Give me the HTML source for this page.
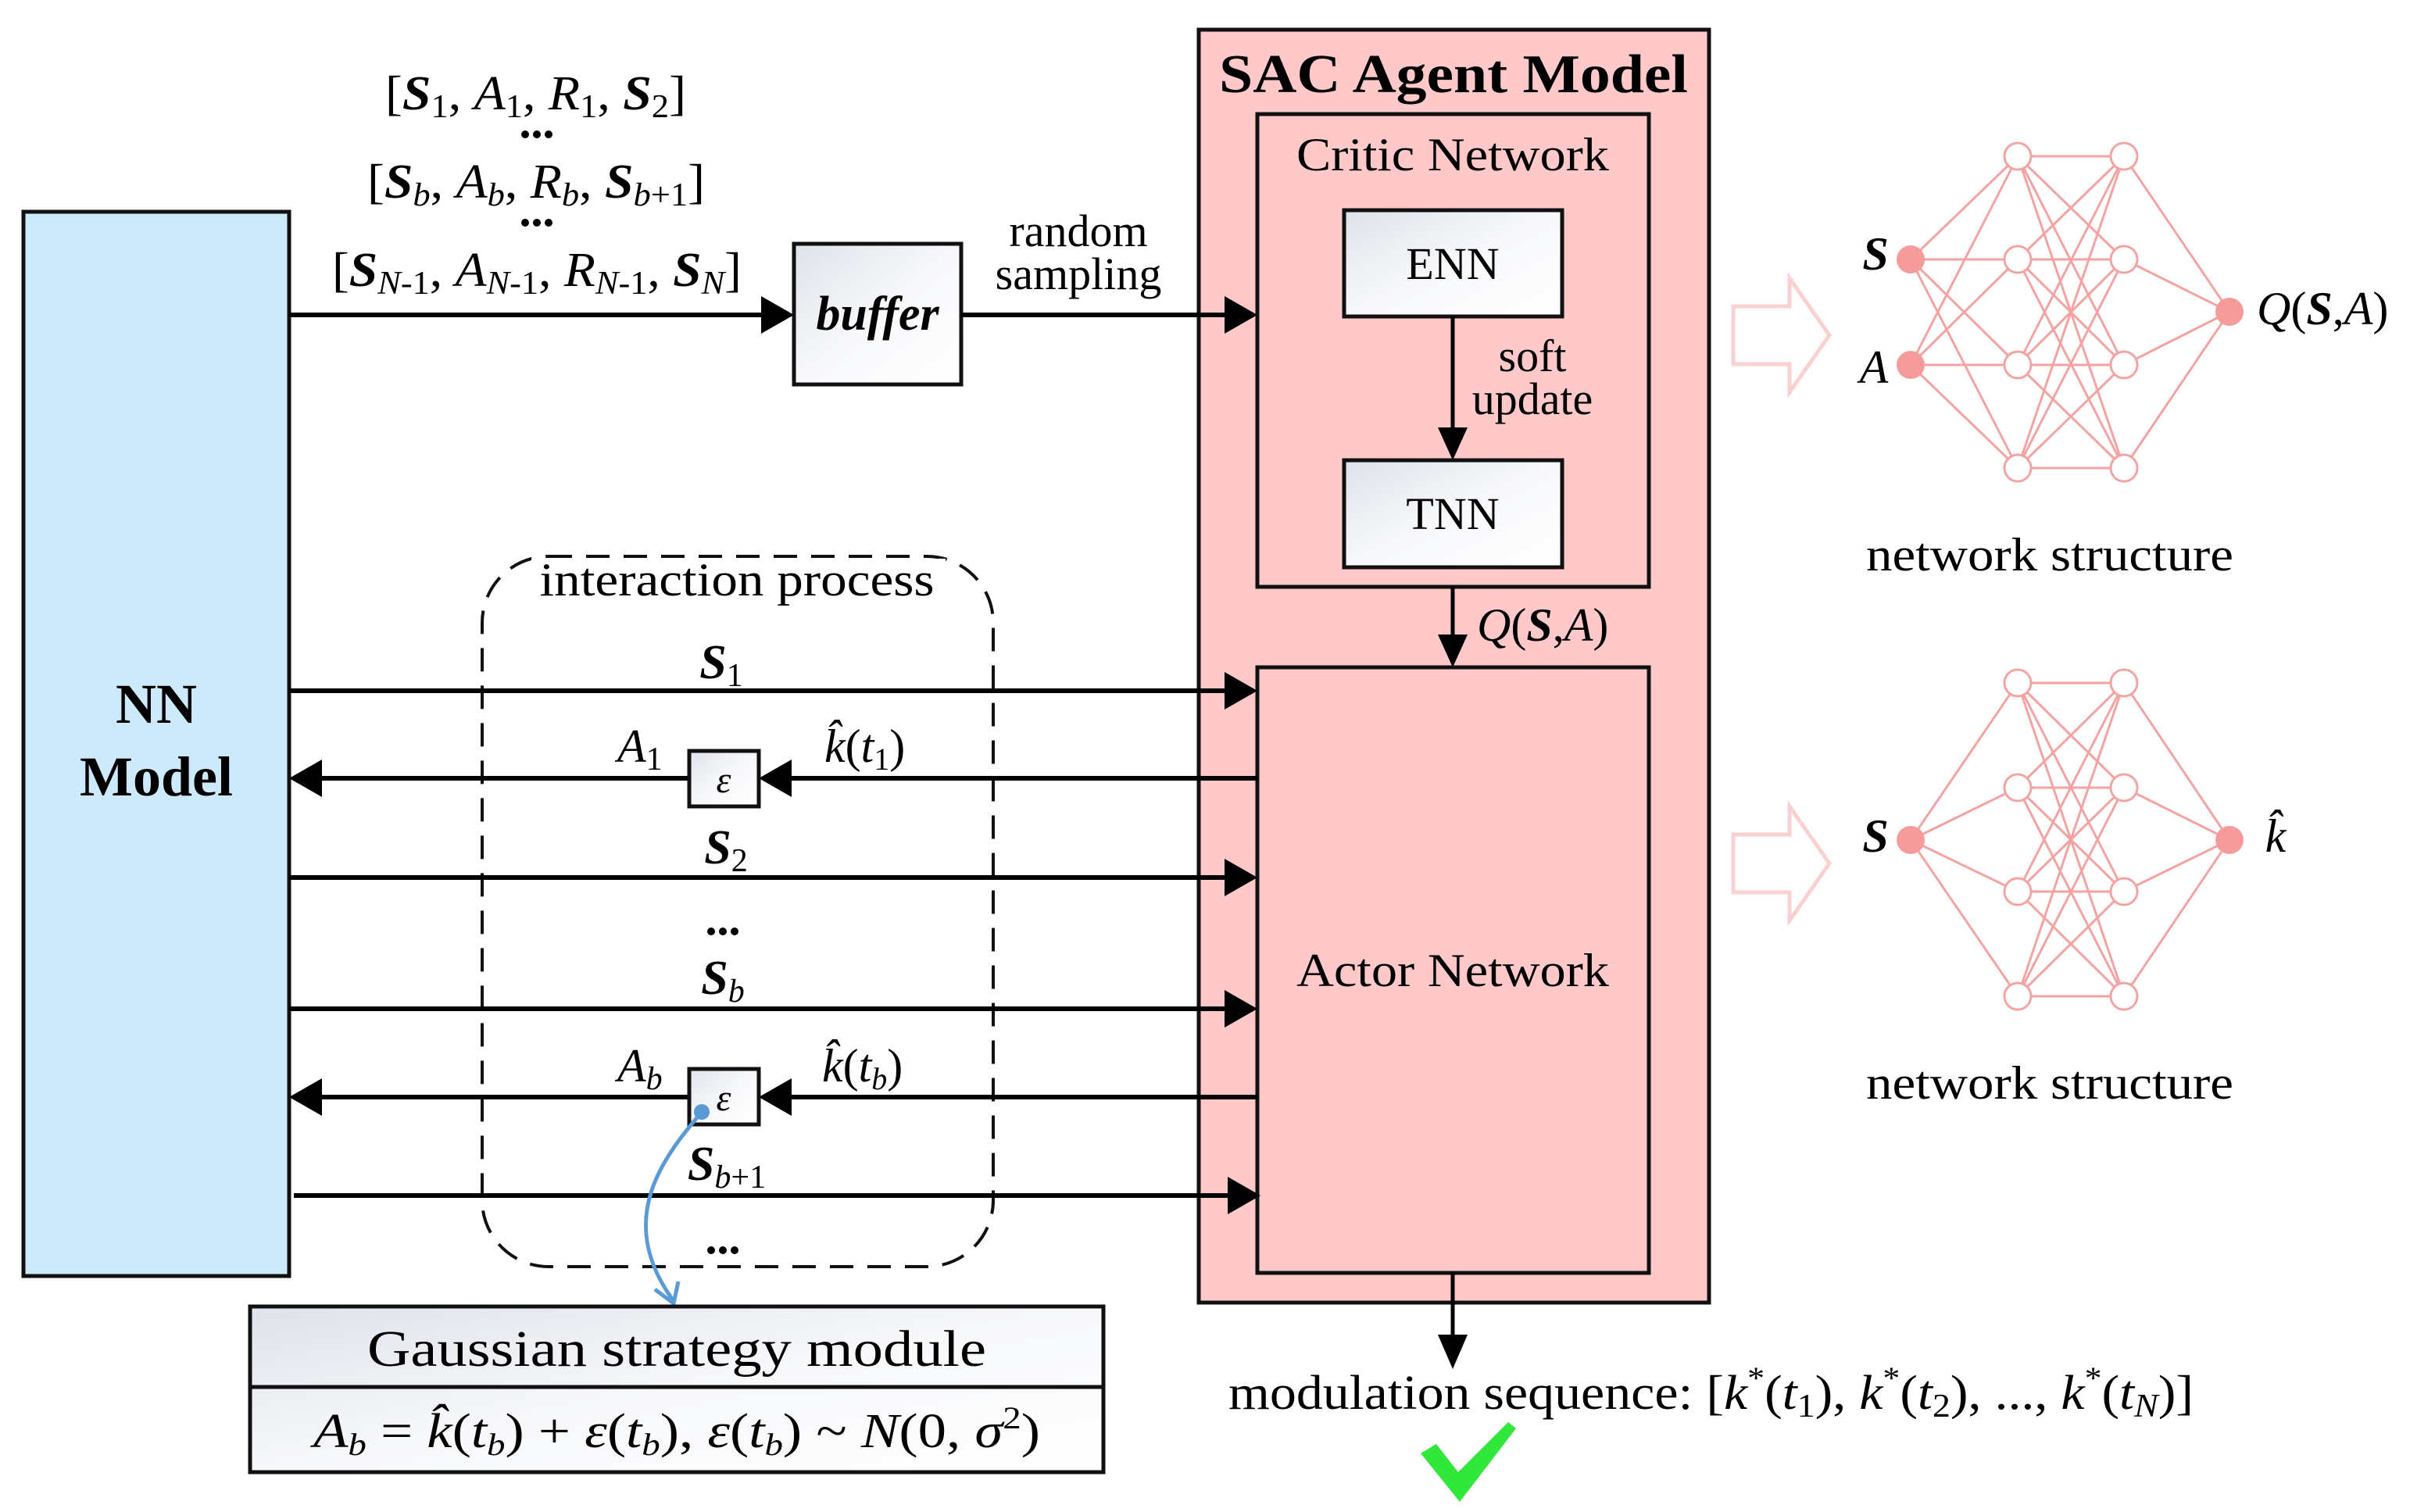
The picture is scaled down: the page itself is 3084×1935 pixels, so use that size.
<!DOCTYPE html>
<html><head><meta charset="utf-8"><style>
html,body{margin:0;padding:0;background:#fff;}
svg{display:block;}
text{font-family:"Liberation Serif",serif;fill:#000;}
</style></head><body>
<svg width="3084" height="1935" viewBox="0 0 3084 1935" xmlns="http://www.w3.org/2000/svg">
<defs>
<linearGradient id="g" x1="0" y1="0" x2="1" y2="1"><stop offset="0" stop-color="#dfe2ea"/><stop offset="0.5" stop-color="#f7f8fa"/><stop offset="1" stop-color="#ffffff"/></linearGradient>
</defs>

<!-- NN Model -->
<rect x="30" y="271" width="340" height="1362" fill="#cdeafc" stroke="#111" stroke-width="5"/>
<text x="200" y="925" font-size="72" font-weight="bold" text-anchor="middle">NN</text>
<text x="200" y="1018" font-size="72" font-weight="bold" text-anchor="middle">Model</text>

<!-- tuples -->
<text x="493" y="140" font-size="62" textLength="385" lengthAdjust="spacingAndGlyphs">[<tspan font-weight="bold" font-style="italic">S</tspan><tspan font-size="42" dy="10">1</tspan><tspan dy="-10">, </tspan><tspan font-style="italic">A</tspan><tspan font-size="42" dy="10">1</tspan><tspan dy="-10">, </tspan><tspan font-style="italic">R</tspan><tspan font-size="42" dy="10">1</tspan><tspan dy="-10">, </tspan><tspan font-weight="bold" font-style="italic">S</tspan><tspan font-size="42" dy="10">2</tspan><tspan dy="-10">]</tspan></text>
<circle cx="672" cy="172" r="5"/><circle cx="687" cy="172" r="5"/><circle cx="702" cy="172" r="5"/>
<text x="470" y="253" font-size="62" textLength="432" lengthAdjust="spacingAndGlyphs">[<tspan font-weight="bold" font-style="italic">S</tspan><tspan font-size="42" dy="10" font-style="italic">b</tspan><tspan dy="-10">, </tspan><tspan font-style="italic">A</tspan><tspan font-size="42" dy="10" font-style="italic">b</tspan><tspan dy="-10">, </tspan><tspan font-style="italic">R</tspan><tspan font-size="42" dy="10" font-style="italic">b</tspan><tspan dy="-10">, </tspan><tspan font-weight="bold" font-style="italic">S</tspan><tspan font-size="42" dy="10"><tspan font-style="italic">b</tspan>+1</tspan><tspan dy="-10">]</tspan></text>
<circle cx="672" cy="285" r="5"/><circle cx="687" cy="285" r="5"/><circle cx="702" cy="285" r="5"/>
<text x="425" y="366" font-size="62" textLength="524" lengthAdjust="spacingAndGlyphs">[<tspan font-weight="bold" font-style="italic">S</tspan><tspan font-size="42" dy="10"><tspan font-style="italic">N</tspan>-1</tspan><tspan dy="-10">, </tspan><tspan font-style="italic">A</tspan><tspan font-size="42" dy="10"><tspan font-style="italic">N</tspan>-1</tspan><tspan dy="-10">, </tspan><tspan font-style="italic">R</tspan><tspan font-size="42" dy="10"><tspan font-style="italic">N</tspan>-1</tspan><tspan dy="-10">, </tspan><tspan font-weight="bold" font-style="italic">S</tspan><tspan font-size="42" dy="10" font-style="italic">N</tspan><tspan dy="-10">]</tspan></text>

<!-- arrow to buffer -->
<line x1="370" y1="403" x2="980" y2="403" stroke="#000" stroke-width="6"/>
<polygon points="974,379 1016,403 974,427"/>
<rect x="1016" y="312" width="214" height="180" fill="url(#g)" stroke="#111" stroke-width="5"/>
<text x="1123" y="422" font-size="62" font-weight="bold" font-style="italic" text-anchor="middle">buffer</text>
<text x="1380" y="315" font-size="58" text-anchor="middle">random</text>
<text x="1380" y="370" font-size="58" text-anchor="middle">sampling</text>

<!-- SAC outer -->
<rect x="1534" y="38" width="653" height="1629" fill="#ffc9c9" stroke="#111" stroke-width="5"/>
<text x="1860" y="118" font-size="70" font-weight="bold" text-anchor="middle" textLength="600" lengthAdjust="spacingAndGlyphs">SAC Agent Model</text>
<line x1="1230" y1="403" x2="1575" y2="403" stroke="#000" stroke-width="6"/>
<polygon points="1567,379 1609,403 1567,427"/>

<!-- critic -->
<rect x="1609" y="146" width="501" height="605" fill="none" stroke="#111" stroke-width="5"/>
<text x="1859" y="218" font-size="60" text-anchor="middle" textLength="400" lengthAdjust="spacingAndGlyphs">Critic Network</text>
<rect x="1720" y="269" width="279" height="136" fill="url(#g)" stroke="#111" stroke-width="5"/>
<text x="1859" y="357" font-size="58" text-anchor="middle">ENN</text>
<rect x="1720" y="589" width="279" height="137" fill="url(#g)" stroke="#111" stroke-width="5"/>
<text x="1859" y="677" font-size="58" text-anchor="middle">TNN</text>
<line x1="1859" y1="405" x2="1859" y2="555" stroke="#000" stroke-width="5"/>
<polygon points="1840,547 1859,589 1878,547"/>
<text x="1961" y="475" font-size="58" text-anchor="middle">soft</text>
<text x="1961" y="530" font-size="58" text-anchor="middle">update</text>

<line x1="1859" y1="751" x2="1859" y2="820" stroke="#000" stroke-width="5"/>
<polygon points="1840,812 1859,854 1878,812"/>
<text x="1890" y="820" font-size="60"><tspan font-style="italic">Q</tspan>(<tspan font-weight="bold" font-style="italic">S</tspan>,<tspan font-style="italic">A</tspan>)</text>

<!-- actor -->
<rect x="1609" y="854" width="501" height="775" fill="none" stroke="#111" stroke-width="5"/>
<text x="1859" y="1262" font-size="60" text-anchor="middle" textLength="400" lengthAdjust="spacingAndGlyphs">Actor Network</text>
<line x1="1859" y1="1629" x2="1859" y2="1715" stroke="#000" stroke-width="5"/>
<polygon points="1840,1708 1859,1752 1878,1708"/>

<text x="1572" y="1803" font-size="62" textLength="1235" lengthAdjust="spacingAndGlyphs">modulation sequence: [<tspan font-style="italic">k</tspan><tspan font-size="40" dy="-26">*</tspan><tspan dy="26">(</tspan><tspan font-style="italic">t</tspan><tspan font-size="42" dy="10">1</tspan><tspan dy="-10">), </tspan><tspan font-style="italic">k</tspan><tspan font-size="40" dy="-26">*</tspan><tspan dy="26">(</tspan><tspan font-style="italic">t</tspan><tspan font-size="42" dy="10">2</tspan><tspan dy="-10">), ...,  </tspan><tspan font-style="italic">k</tspan><tspan font-size="40" dy="-26">*</tspan><tspan dy="26">(</tspan><tspan font-style="italic">t</tspan><tspan font-size="42" dy="10" font-style="italic">N</tspan><tspan dy="-10">)]</tspan></text>
<polygon points="1818,1860 1838,1848 1866,1884 1930,1820 1940,1828 1868,1922" fill="#2fe83a"/>

<!-- interaction dashed -->
<rect x="617" y="712" width="654" height="909" rx="85" ry="85" fill="none" stroke="#111" stroke-width="4" stroke-dasharray="30,18"/>
<rect x="680" y="715" width="530" height="60" fill="#fff"/>
<text x="943" y="762" font-size="60" text-anchor="middle" textLength="505" lengthAdjust="spacingAndGlyphs">interaction process</text>

<!-- arrows in interaction -->
<line x1="370" y1="884" x2="1575" y2="884" stroke="#000" stroke-width="6"/><polygon points="1567,860 1609,884 1567,908"/>
<text x="923" y="868" font-size="62" font-weight="bold" font-style="italic" text-anchor="middle">S<tspan font-size="42" font-weight="normal" font-style="normal" dy="10">1</tspan></text>

<line x1="405" y1="996" x2="882" y2="996" stroke="#000" stroke-width="6"/><polygon points="412,972 370,996 412,1020"/>
<line x1="1012" y1="996" x2="1609" y2="996" stroke="#000" stroke-width="6"/><polygon points="1013,972 971,996 1013,1020"/>
<rect x="882" y="961" width="89" height="71" fill="url(#g)" stroke="#111" stroke-width="5"/>
<text x="926" y="1014" font-size="48" font-style="italic" text-anchor="middle">ε</text>
<text x="790" y="975" font-size="60" font-style="italic">A<tspan font-size="42" font-style="normal" dy="10">1</tspan></text>
<text x="1055" y="975" font-size="60"><tspan font-style="italic">k̂</tspan>(<tspan font-style="italic">t</tspan><tspan font-size="40" dy="10">1</tspan><tspan dy="-10">)</tspan></text>

<line x1="370" y1="1123" x2="1575" y2="1123" stroke="#000" stroke-width="6"/><polygon points="1567,1099 1609,1123 1567,1147"/>
<text x="929" y="1105" font-size="62" font-weight="bold" font-style="italic" text-anchor="middle">S<tspan font-size="42" font-weight="normal" font-style="normal" dy="10">2</tspan></text>

<circle cx="910" cy="1192" r="5"/><circle cx="925" cy="1192" r="5"/><circle cx="940" cy="1192" r="5"/>

<line x1="370" y1="1291" x2="1575" y2="1291" stroke="#000" stroke-width="6"/><polygon points="1567,1267 1609,1291 1567,1315"/>
<text x="925" y="1272" font-size="62" font-weight="bold" font-style="italic" text-anchor="middle">S<tspan font-size="42" font-weight="normal" dy="10">b</tspan></text>

<line x1="405" y1="1404" x2="882" y2="1404" stroke="#000" stroke-width="6"/><polygon points="412,1380 370,1404 412,1428"/>
<line x1="1012" y1="1404" x2="1609" y2="1404" stroke="#000" stroke-width="6"/><polygon points="1013,1380 971,1404 1013,1428"/>
<rect x="882" y="1368" width="89" height="71" fill="url(#g)" stroke="#111" stroke-width="5"/>
<text x="926" y="1421" font-size="48" font-style="italic" text-anchor="middle">ε</text>
<text x="790" y="1384" font-size="60" font-style="italic">A<tspan font-size="42" dy="10">b</tspan></text>
<text x="1052" y="1384" font-size="60"><tspan font-style="italic">k̂</tspan>(<tspan font-style="italic">t</tspan><tspan font-size="40" font-style="italic" dy="10">b</tspan><tspan dy="-10">)</tspan></text>

<line x1="376" y1="1530" x2="1575" y2="1530" stroke="#000" stroke-width="6"/><polygon points="1571,1506 1613,1530 1571,1554"/>
<text x="930" y="1510" font-size="62" font-weight="bold" font-style="italic" text-anchor="middle">S<tspan font-size="42" font-weight="normal" dy="10"><tspan font-style="italic">b</tspan><tspan font-style="normal">+1</tspan></tspan></text>

<circle cx="910" cy="1600" r="5"/><circle cx="925" cy="1600" r="5"/><circle cx="940" cy="1600" r="5"/>

<!-- blue curve -->
<circle cx="898" cy="1423" r="10" fill="#5b9bd5"/>
<path d="M898,1423 C850,1480 785,1560 862,1665" fill="none" stroke="#5b9bd5" stroke-width="5"/>
<polyline points="838,1650 862,1668 868,1640" fill="none" stroke="#5b9bd5" stroke-width="5"/>

<!-- Gaussian -->
<rect x="320" y="1672" width="1092" height="212" fill="url(#g)" stroke="#111" stroke-width="5"/>
<line x1="320" y1="1775" x2="1412" y2="1775" stroke="#111" stroke-width="5"/>
<text x="866" y="1748" font-size="66" text-anchor="middle" textLength="792" lengthAdjust="spacingAndGlyphs">Gaussian strategy module</text>
<text x="866" y="1852" font-size="62" text-anchor="middle" textLength="930" lengthAdjust="spacingAndGlyphs"><tspan font-style="italic">A</tspan><tspan font-size="40" font-style="italic" dy="10">b</tspan><tspan dy="-10"> = </tspan><tspan font-style="italic">k̂</tspan>(<tspan font-style="italic">t</tspan><tspan font-size="40" font-style="italic" dy="10">b</tspan><tspan dy="-10">) + </tspan><tspan font-style="italic">ε</tspan>(<tspan font-style="italic">t</tspan><tspan font-size="40" font-style="italic" dy="10">b</tspan><tspan dy="-10">),  </tspan><tspan font-style="italic">ε</tspan>(<tspan font-style="italic">t</tspan><tspan font-size="40" font-style="italic" dy="10">b</tspan><tspan dy="-10">) ~ </tspan><tspan font-style="italic">N</tspan>(0, <tspan font-style="italic">σ</tspan><tspan font-size="40" dy="-24">2</tspan><tspan dy="24">)</tspan></text>

<!-- hollow arrows -->
<polygon points="2218,392 2290,392 2290,356 2341,429 2290,502 2290,466 2218,466" fill="none" stroke="#fbd0d0" stroke-width="5"/>
<polygon points="2218,1068 2290,1068 2290,1032 2341,1105 2290,1178 2290,1142 2218,1142" fill="none" stroke="#fbd0d0" stroke-width="5"/>

<!-- network 1 -->
<g stroke="#f4a3a3" stroke-width="3">
<line x1="2445" y1="332" x2="2582" y2="200"/><line x1="2445" y1="332" x2="2582" y2="332"/><line x1="2445" y1="332" x2="2582" y2="467"/><line x1="2445" y1="332" x2="2582" y2="599"/>
<line x1="2445" y1="467" x2="2582" y2="200"/><line x1="2445" y1="467" x2="2582" y2="332"/><line x1="2445" y1="467" x2="2582" y2="467"/><line x1="2445" y1="467" x2="2582" y2="599"/>
<line x1="2582" y1="200" x2="2718" y2="200"/><line x1="2582" y1="200" x2="2718" y2="332"/><line x1="2582" y1="200" x2="2718" y2="467"/><line x1="2582" y1="200" x2="2718" y2="599"/>
<line x1="2582" y1="332" x2="2718" y2="200"/><line x1="2582" y1="332" x2="2718" y2="332"/><line x1="2582" y1="332" x2="2718" y2="467"/><line x1="2582" y1="332" x2="2718" y2="599"/>
<line x1="2582" y1="467" x2="2718" y2="200"/><line x1="2582" y1="467" x2="2718" y2="332"/><line x1="2582" y1="467" x2="2718" y2="467"/><line x1="2582" y1="467" x2="2718" y2="599"/>
<line x1="2582" y1="599" x2="2718" y2="200"/><line x1="2582" y1="599" x2="2718" y2="332"/><line x1="2582" y1="599" x2="2718" y2="467"/><line x1="2582" y1="599" x2="2718" y2="599"/>
<line x1="2718" y1="200" x2="2853" y2="399"/><line x1="2718" y1="332" x2="2853" y2="399"/><line x1="2718" y1="467" x2="2853" y2="399"/><line x1="2718" y1="599" x2="2853" y2="399"/>
</g>
<g fill="#fff" stroke="#f4a3a3" stroke-width="3">
<circle cx="2582" cy="200" r="17"/><circle cx="2582" cy="332" r="17"/><circle cx="2582" cy="467" r="17"/><circle cx="2582" cy="599" r="17"/>
<circle cx="2718" cy="200" r="17"/><circle cx="2718" cy="332" r="17"/><circle cx="2718" cy="467" r="17"/><circle cx="2718" cy="599" r="17"/>
</g>
<g fill="#f59b9b"><circle cx="2445" cy="332" r="18"/><circle cx="2445" cy="467" r="18"/><circle cx="2853" cy="399" r="18"/></g>
<text x="2400" y="345" font-size="60" font-weight="bold" font-style="italic" text-anchor="middle">S</text>
<text x="2398" y="490" font-size="60" font-style="italic" text-anchor="middle">A</text>
<text x="2888" y="415" font-size="60"><tspan font-style="italic">Q</tspan>(<tspan font-weight="bold" font-style="italic">S</tspan>,<tspan font-style="italic">A</tspan>)</text>
<text x="2623" y="730" font-size="60" text-anchor="middle" textLength="470" lengthAdjust="spacingAndGlyphs">network structure</text>

<!-- network 2 -->
<g stroke="#f4a3a3" stroke-width="3">
<line x1="2445" y1="1075" x2="2582" y2="874"/><line x1="2445" y1="1075" x2="2582" y2="1008"/><line x1="2445" y1="1075" x2="2582" y2="1141"/><line x1="2445" y1="1075" x2="2582" y2="1275"/>
<line x1="2582" y1="874" x2="2718" y2="874"/><line x1="2582" y1="874" x2="2718" y2="1008"/><line x1="2582" y1="874" x2="2718" y2="1141"/><line x1="2582" y1="874" x2="2718" y2="1275"/>
<line x1="2582" y1="1008" x2="2718" y2="874"/><line x1="2582" y1="1008" x2="2718" y2="1008"/><line x1="2582" y1="1008" x2="2718" y2="1141"/><line x1="2582" y1="1008" x2="2718" y2="1275"/>
<line x1="2582" y1="1141" x2="2718" y2="874"/><line x1="2582" y1="1141" x2="2718" y2="1008"/><line x1="2582" y1="1141" x2="2718" y2="1141"/><line x1="2582" y1="1141" x2="2718" y2="1275"/>
<line x1="2582" y1="1275" x2="2718" y2="874"/><line x1="2582" y1="1275" x2="2718" y2="1008"/><line x1="2582" y1="1275" x2="2718" y2="1141"/><line x1="2582" y1="1275" x2="2718" y2="1275"/>
<line x1="2718" y1="874" x2="2853" y2="1075"/><line x1="2718" y1="1008" x2="2853" y2="1075"/><line x1="2718" y1="1141" x2="2853" y2="1075"/><line x1="2718" y1="1275" x2="2853" y2="1075"/>
</g>
<g fill="#fff" stroke="#f4a3a3" stroke-width="3">
<circle cx="2582" cy="874" r="17"/><circle cx="2582" cy="1008" r="17"/><circle cx="2582" cy="1141" r="17"/><circle cx="2582" cy="1275" r="17"/>
<circle cx="2718" cy="874" r="17"/><circle cx="2718" cy="1008" r="17"/><circle cx="2718" cy="1141" r="17"/><circle cx="2718" cy="1275" r="17"/>
</g>
<g fill="#f59b9b"><circle cx="2445" cy="1075" r="18"/><circle cx="2853" cy="1075" r="18"/></g>
<text x="2400" y="1090" font-size="60" font-weight="bold" font-style="italic" text-anchor="middle">S</text>
<text x="2912" y="1090" font-size="60" font-style="italic" text-anchor="middle">k̂</text>
<text x="2623" y="1406" font-size="60" text-anchor="middle" textLength="470" lengthAdjust="spacingAndGlyphs">network structure</text>
</svg>
</body></html>
